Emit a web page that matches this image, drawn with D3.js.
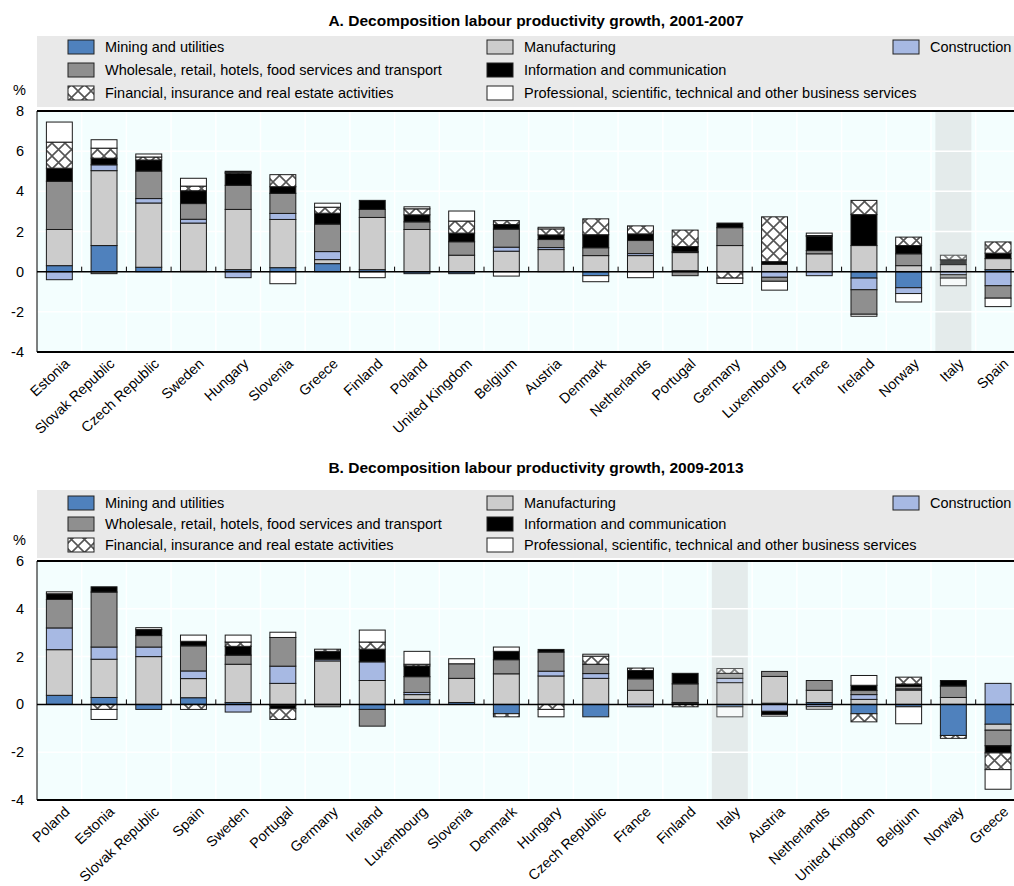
<!DOCTYPE html>
<html>
<head>
<meta charset="utf-8">
<script src="https://cdn.jsdelivr.net/npm/d3@7"></script>
<style>
  body { margin: 0; background: #fff; }
  svg { display: block; font-family: "Liberation Sans", Arial, sans-serif; }
  .title { font-weight: bold; font-size: 15.5px; }
  .legend text { font-size: 14.5px; }
  .tick-label { font-size: 14.5px; }
  .x-label { font-size: 14.3px; }
</style>
</head>
<body>
<div id="chart"></div>
<script>
var sectors = ["Mining and utilities", "Manufacturing", "Construction",
	"Wholesale, retail, hotels, food services and transport", "Information and communication",
	"Financial, insurance and real estate activities",
	"Professional, scientific, technical and other business services"];
var keys = ["mining", "manuf", "constr", "wholesale", "info", "fin", "prof"];
var yTicksA = [-4, -2, 0, 2, 4, 6, 8];
var yTicksB = [-4, -2, 0, 2, 4, 6];

// Panel A, 2001-2007
var countriesA = ["Estonia", "Slovak Republic", "Czech Republic", "Sweden", "Hungary", "Slovenia", "Greece",
	"Finland", "Poland", "United Kingdom", "Belgium", "Austria", "Denmark", "Netherlands", "Portugal",
	"Germany", "Luxembourg", "France", "Ireland", "Norway", "Italy", "Spain"];
var miningA = [0.3, 1.3, 0.22, 0.02, 0.1, 0.2, 0.4, 0.1, -0.1, -0.1, 0, 0, -0.2, 0, 0.05, 0, 0, 0, -0.32, -0.8, 0, 0.1];
var manufA = [1.8, 3.73, 3.2, 2.4, 3.0, 2.4, 0.2, 2.6, 2.1, 0.82, 1.02, 1.1, 0.8, 0.8, 0.9, 1.3, 0.37, 0.89, 1.3, 0.3, 0.35, 0.55];
var constrA = [-0.4, 0.29, 0.22, 0.19, -0.3, 0.3, 0.4, 0, 0, 0, 0.2, 0.1, 0, 0.1, 0.05, 0, -0.28, -0.2, -0.58, -0.29, -0.15, -0.7];
var wholesaleA = [2.4, -0.1, 1.37, 0.78, 1.2, 1.0, 1.37, 0.4, 0.38, 0.67, 0.9, 0.4, 0.39, 0.65, -0.2, 0.89, -0.2, 0.16, -1.22, 0.59, -0.17, -0.62];
var infoA = [0.65, 0.33, 0.55, 0.64, 0.6, 0.33, 0.54, 0.45, 0.35, 0.43, 0.23, 0.23, 0.65, 0.33, 0.25, 0.23, 0.13, 0.7, 1.54, 0.41, 0.24, 0.27];
var finA = [1.3, 0.5, 0.15, 0.23, 0.05, 0.6, 0.3, 0, 0.3, 0.6, 0.19, 0.3, 0.79, 0.4, 0.82, -0.32, 2.23, 0.05, 0.71, 0.42, 0.23, 0.56];
var profA = [1.0, 0.42, 0.15, 0.39, 0.05, -0.6, 0.2, -0.3, 0.1, 0.5, -0.22, 0.08, -0.3, -0.3, 0, -0.27, -0.44, 0.12, -0.1, -0.42, -0.38, -0.42];

// Panel B, 2009-2013
var countriesB = ["Poland", "Estonia", "Slovak Republic", "Spain", "Sweden", "Portugal", "Germany", "Ireland",
	"Luxembourg", "Slovenia", "Denmark", "Hungary", "Czech Republic", "France", "Finland", "Italy", "Austria",
	"Netherlands", "United Kingdom", "Belgium", "Norway", "Greece"];
var miningB = [0.38, 0.29, -0.21, 0.28, 0.08, -0.05, 0, -0.21, 0.21, 0.08, -0.39, 0, -0.52, 0, 0.05, -0.1, 0.05, 0.08, -0.39, -0.1, -1.3, -0.83];
var manufB = [1.91, 1.6, 2.0, 0.8, 1.6, 0.88, 1.82, 1.0, 0.2, 1.01, 1.28, 1.19, 1.09, 0.59, 0.03, 0.91, 1.12, 0.51, 0.21, 0.6, 0.29, -0.25];
var constrB = [0.91, 0.51, 0.4, 0.32, -0.32, 0.72, 0.07, 0.78, 0.09, 0, 0, 0.2, 0.2, -0.1, 0, 0.18, -0.29, -0.1, 0.2, 0.05, 0, 0.88];
var wholesaleB = [1.19, 2.3, 0.48, 1.05, 0.38, 1.2, -0.1, -0.7, 0.66, 0.61, 0.59, 0.8, 0.39, 0.48, 0.78, 0.21, 0.21, 0.41, 0.17, 0.1, 0.48, -0.65];
var infoB = [0.24, 0.22, 0.25, 0.19, 0.37, -0.13, 0.33, 0.53, 0.45, 0, 0.35, 0.11, 0, 0.35, 0.44, 0, -0.13, 0, 0.22, 0.1, 0.23, -0.3];
var finB = [0, -0.21, 0, -0.21, 0.18, -0.45, 0.09, 0.3, 0.07, 0, -0.13, -0.21, 0.34, 0.1, -0.1, 0.2, 0, 0, -0.34, 0.29, -0.12, -0.7];
var profB = [0.08, -0.42, 0.08, 0.26, 0.29, 0.22, 0, 0.5, 0.54, 0.21, 0.18, -0.31, 0.08, 0, 0, -0.42, -0.07, -0.1, 0.41, -0.71, 0, -0.82];

var fills = {
	mining: "#4f81bd", manuf: "#cccccc", constr: "#a7b9e3", wholesale: "#8f8f8f",
	info: "#000000", fin: "url(#hatch)", prof: "#ffffff"
};

var W = 1014, H = 886;
var svg = d3.select("#chart").append("svg")
	.attr("width", W)
	.attr("height", H);

// cross hatch for financial services
var pat = svg.append("defs").append("pattern")
	.attr("id", "hatch")
	.attr("patternUnits", "userSpaceOnUse")
	.attr("width", 13)
	.attr("height", 13);
pat.append("rect").attr("width", 13).attr("height", 13).attr("fill", "#fff");
pat.append("path")
	.attr("d", "M0,0L13,13M13,0L0,13")
	.attr("stroke", "#555")
	.attr("stroke-width", 1.6);

function rows(countries, arrs) {
	return countries.map(function(c, i) {
		var r = { country: c };
		keys.forEach(function(k, j) { r[k] = arrs[j][i]; });
		return r;
	});
}

var panels = [
	{
		title: "A. Decomposition labour productivity growth, 2001-2007",
		titleY: 26, box: [37, 36, 71], legendY: [47, 70, 93], pctY: 95,
		top: 111, bottom: 352, domain: [-4, 8], ticks: yTicksA,
		countries: countriesA,
		data: rows(countriesA, [miningA, manufA, constrA, wholesaleA, infoA, finA, profA])
	},
	{
		title: "B. Decomposition labour productivity growth, 2009-2013",
		titleY: 473, box: [37, 490, 68], legendY: [503, 524, 545], pctY: 545,
		top: 561, bottom: 800, domain: [-4, 6], ticks: yTicksB,
		countries: countriesB,
		data: rows(countriesB, [miningB, manufB, constrB, wholesaleB, infoB, finB, profB])
	}
];

// legend slots: column, row
var legendPos = [[0, 0], [1, 0], [2, 0], [0, 1], [1, 1], [0, 2], [1, 2]];
var colSwatch = [68, 487, 893], colText = [105, 524, 930];

var stack = d3.stack().keys(keys).offset(d3.stackOffsetDiverging);

panels.forEach(function(p) {

	var x = d3.scaleBand()
		.domain(p.countries)
		.range([37, 37 + 22 * 44.7])
		.paddingInner(0.42)
		.paddingOuter(0.21);

	var y = d3.scaleLinear().domain(p.domain).range([p.bottom, p.top]);

	var g = svg.append("g");

	// title
	g.append("text")
		.attr("class", "title")
		.attr("x", 536)
		.attr("y", p.titleY)
		.attr("text-anchor", "middle")
		.text(p.title);

	// legend
	g.append("rect")
		.attr("x", p.box[0]).attr("y", p.box[1])
		.attr("width", W - p.box[0]).attr("height", p.box[2])
		.attr("fill", "#e9e9e9");

	var lg = g.append("g").attr("class", "legend")
		.selectAll("g")
		.data(keys)
		.enter().append("g");

	lg.append("rect")
		.attr("x", function(d, i) { return colSwatch[legendPos[i][0]]; })
		.attr("y", function(d, i) { return p.legendY[legendPos[i][1]] - 7; })
		.attr("width", 26)
		.attr("height", 14)
		.attr("fill", function(d) { return fills[d]; })
		.attr("stroke", "#222")
		.attr("stroke-width", 1);

	lg.append("text")
		.attr("x", function(d, i) { return colText[legendPos[i][0]]; })
		.attr("y", function(d, i) { return p.legendY[legendPos[i][1]]; })
		.attr("dy", "0.35em")
		.text(function(d, i) { return sectors[i]; });

	// plot background
	g.append("rect")
		.attr("x", 37).attr("y", p.top)
		.attr("width", W - 37).attr("height", p.bottom - p.top)
		.attr("fill", "#f3fefe");

	// Italy highlight
	g.append("rect")
		.attr("x", x("Italy") + x.bandwidth() / 2 - 18)
		.attr("y", p.top)
		.attr("width", 36)
		.attr("height", p.bottom - p.top)
		.attr("fill", "#e4ebeb");

	// grid
	var bounds = d3.range(1, 23).map(function(i) { return 37 + i * x.step(); });
	g.append("g").selectAll("line")
		.data(p.ticks)
		.enter().append("line")
		.attr("x1", 37).attr("x2", W)
		.attr("y1", function(d) { return y(d); })
		.attr("y2", function(d) { return y(d); })
		.attr("stroke", "#fff")
		.attr("stroke-width", 1.5);
	g.append("g").selectAll("line")
		.data(bounds)
		.enter().append("line")
		.attr("x1", function(d) { return d; })
		.attr("x2", function(d) { return d; })
		.attr("y1", p.top).attr("y2", p.bottom)
		.attr("stroke", "#fff")
		.attr("stroke-width", 1.5);

	// bars
	var series = stack(p.data);
	g.append("g").selectAll("g")
		.data(series)
		.enter().append("g")
		.attr("fill", function(d) { return fills[d.key]; })
		.selectAll("rect")
		.data(function(d) { return d; })
		.enter().append("rect")
		.filter(function(d) { return d[1] !== d[0]; })
		.attr("x", function(d) { return x(d.data.country); })
		.attr("y", function(d) { return y(Math.max(d[0], d[1])); })
		.attr("width", x.bandwidth())
		.attr("height", function(d) { return Math.abs(y(d[0]) - y(d[1])); })
		.attr("stroke", "#1a1a1a")
		.attr("stroke-width", 1)
		.attr("opacity", function(d) { return d.data.country === "Italy" ? 0.7 : 1; });

	// frame
	g.append("line").attr("x1", 37).attr("x2", W).attr("y1", p.top).attr("y2", p.top)
		.attr("stroke", "#000").attr("stroke-width", 2);
	g.append("line").attr("x1", 37).attr("x2", W).attr("y1", p.bottom).attr("y2", p.bottom)
		.attr("stroke", "#000").attr("stroke-width", 2);
	g.append("line").attr("x1", 37).attr("x2", 37).attr("y1", p.top).attr("y2", p.bottom)
		.attr("stroke", "#000").attr("stroke-width", 1);

	// zero line with small ticks
	g.append("line").attr("x1", 37).attr("x2", W).attr("y1", y(0)).attr("y2", y(0))
		.attr("stroke", "#000").attr("stroke-width", 1.5);
	g.append("g").selectAll("line")
		.data(bounds)
		.enter().append("line")
		.attr("x1", function(d) { return d; })
		.attr("x2", function(d) { return d; })
		.attr("y1", y(0)).attr("y2", y(0) - 5)
		.attr("stroke", "#000")
		.attr("stroke-width", 1);

	// y labels
	g.append("g").selectAll("text")
		.data(p.ticks)
		.enter().append("text")
		.attr("class", "tick-label")
		.attr("x", 24)
		.attr("y", function(d) { return y(d); })
		.attr("dy", "0.35em")
		.attr("text-anchor", "end")
		.text(function(d) { return d; });

	g.append("text")
		.attr("class", "tick-label")
		.attr("x", 13)
		.attr("y", p.pctY)
		.text("%");

	// x labels
	g.append("g").selectAll("text")
		.data(p.countries)
		.enter().append("text")
		.attr("class", "x-label")
		.attr("text-anchor", "end")
		.attr("transform", function(d) {
			return "translate(" + (x(d) + x.bandwidth() / 2 + 4) + "," + (p.bottom + 5) + ") rotate(-43)";
		})
		.attr("dy", "0.75em")
		.text(function(d) { return d; });
});
</script>
</body>
</html>
